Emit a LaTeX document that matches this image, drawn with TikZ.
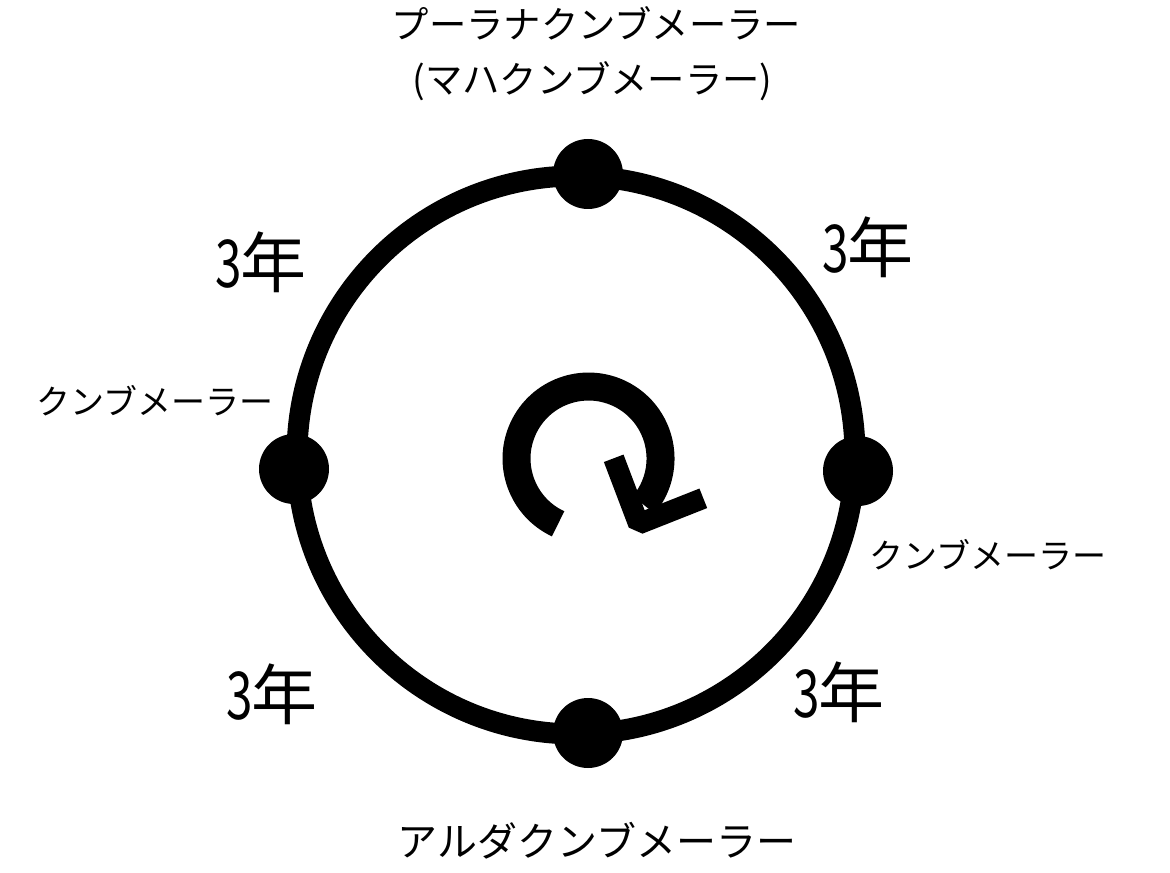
\documentclass[tikz,border=0pt]{standalone}
\usepackage{fontspec}
\setmainfont{Noto Sans CJK JP}
\usepackage{graphicx}
\newcommand{\yrthree}{\scalebox{0.72}[1]{3}\hspace{-1pt}年}
\begin{document}
\begin{tikzpicture}[x=0.75pt,y=-0.75pt,
  dot/.style={circle,fill=black,minimum size=52.5pt,inner sep=0pt},
  toplabel/.style={inner sep=0pt,font=\fontsize{28pt}{34pt}\selectfont},
  sidelabel/.style={inner sep=0pt,font=\fontsize{25.5pt}{30pt}\selectfont},
  botlabel/.style={inner sep=0pt,font=\fontsize{30pt}{36pt}\selectfont},
  yearlabel/.style={inner sep=0pt,font=\fontsize{49.5pt}{56pt}\selectfont},
  ring/.style={line width=15.75pt},
  cyclearc/.style={line width=21pt},
  chevron/.style={line width=15.75pt,line join=bevel}]
\useasboundingbox (0,0) rectangle (1170,873);
\fill[white] (0,0) rectangle (1170,873);
% main ring
\draw[ring] (576,455) circle (279);
% dots
\node[dot] (ptop) at (588,174) {};
\node[dot] (pleft) at (294,469) {};
\node[dot] (pright) at (858,471) {};
\node[dot] (pbot) at (588,733) {};
% labels
\node[toplabel] (t1) at (596.5,23.5) {プーラナクンブメーラー};
\node[toplabel] (t2) at (592.5,81) {(マハクンブメーラー)};
\node[sidelabel] (ll) at (155,401) {クンブメーラー};
\node[sidelabel] (rl) at (988,555) {クンブメーラー};
\node[botlabel] (bl) at (597,841) {アルダクンブメーラー};
\node[yearlabel] (y1) at (261,262) {\yrthree};
\node[yearlabel] (y2) at (868,247.5) {\yrthree};
\node[yearlabel] (y3) at (272,694) {\yrthree};
\node[yearlabel] (y4) at (839,692) {\yrthree};
% central cycle arrow
\draw[cyclearc] (558.1,523.8) arc[start angle=115, end angle=400, radius=72];
\coordinate (ca) at (613.7,458.3);
\coordinate (cv) at (638.6,523.9);
\coordinate (cb) at (703.3,498.3);
\draw[chevron] (ca) -- (cv) -- (cb);
\end{tikzpicture}
\end{document}
